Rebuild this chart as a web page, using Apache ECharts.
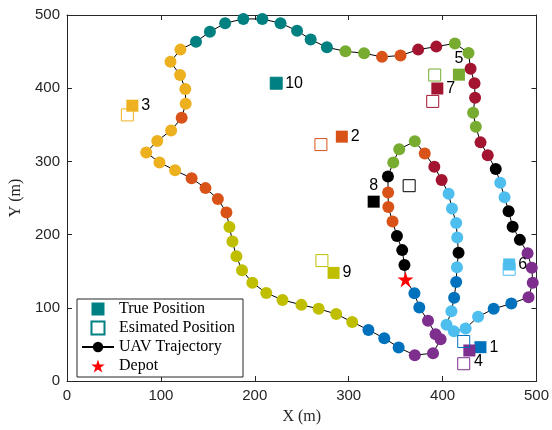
<!DOCTYPE html>
<html>
<head>
<meta charset="utf-8">
<title>UAV trajectory</title>
<script src="https://cdn.jsdelivr.net/npm/echarts@6/dist/echarts.min.js"></script>
<style>
html,body{margin:0;padding:0;background:#fff;}
#chart{width:552px;height:430px;}
</style>
</head>
<body>
<div id="chart"></div>
<script>
// target ids, true / estimated positions (m)
var targetIds = [1, 2, 3, 4, 5, 6, 7, 8, 9, 10];
var trueX = [440.3, 292.7, 69.6, 428.5, 417.4, 470.9, 394.4, 326.6, 283.9, 222.8];
var trueY = [46.2, 333.8, 376.1, 41.7, 418.5, 159.2, 399.6, 245.0, 147.7, 406.8];
var estX = [422.5, 270.4, 64.3, 422.5, 391.6, 470.9, 389.5, 364.4, 271.5, 222.8];
var estY = [54.0, 323.0, 363.5, 23.6, 418.0, 152.7, 382.0, 266.8, 164.5, 406.8];

// depot
var depot = [360.5, 138.8];

// UAV trajectory points, in flight order, and which target each point serves
var trajX = [370.0, 375.2, 384.5, 392.5, 397.9, 389.8, 370.4, 353.2, 337.9, 321.0,
  303.7, 286.7, 268.0, 249.6, 229.5, 212.2, 197.4, 186.4, 180.4, 176.2,
  173.0, 169.8, 160.7, 147.5, 132.7, 115.1, 98.5, 84.4, 96.1, 110.9,
  122.1, 126.4, 126.0, 120.4, 110.2, 120.8, 137.4, 152.2, 168.4, 187.8,
  208.0, 227.4, 245.0, 259.5, 276.8, 296.6, 316.4, 335.5, 355.2, 374.0,
  393.3, 413.1, 427.6, 429.8, 434.0, 434.6, 432.5, 435.4, 440.4, 448.1,
  456.6, 461.4, 466.0, 470.3, 474.6, 482.3, 490.5, 495.0, 496.0, 491.5,
  473.2, 454.4, 437.8, 424.5, 412.0, 404.2, 409.4, 412.3, 414.5, 415.3,
  417.0, 415.6, 414.5, 410.0, 406.4, 399.0, 391.2, 381.0, 370.4, 353.8,
  347.5, 341.8, 342.0, 342.2, 346.7, 351.4, 357.0, 359.4];
var trajY = [119.8, 100.5, 82.2, 64.0, 57.0, 38.0, 35.3, 45.7, 58.5, 69.8,
  80.7, 91.5, 98.6, 104.0, 110.8, 120.3, 134.2, 151.4, 170.3, 190.5,
  210.4, 230.1, 248.6, 263.5, 277.0, 287.8, 298.6, 312.2, 328.0, 342.3,
  359.5, 378.8, 399.0, 418.0, 436.0, 452.7, 463.5, 477.0, 488.8, 494.6,
  494.6, 488.8, 478.6, 466.5, 455.8, 450.4, 447.7, 442.8, 444.6, 452.7,
  456.8, 461.2, 448.2, 426.6, 406.8, 386.8, 366.6, 347.3, 326.0, 308.5,
  289.6, 270.8, 251.0, 232.0, 210.8, 192.8, 174.5, 154.8, 134.2, 114.4,
  105.8, 98.6, 87.8, 71.8, 67.8, 76.8, 95.3, 113.8, 135.1, 155.4,
  175.2, 196.0, 215.7, 235.5, 255.8, 274.7, 292.8, 310.8, 327.4, 316.6,
  298.6, 279.5, 257.6, 237.8, 217.8, 198.2, 178.8, 158.5];
var trajTarget = [1, 1, 4, 4, 4, 4, 4, 1, 1, 1,
  9, 9, 9, 9, 9, 9, 9, 9, 9, 9,
  9, 2, 2, 2, 2, 3, 3, 3, 3, 3,
  2, 3, 3, 3, 3, 3, 10, 10, 10, 10,
  10, 10, 10, 10, 10, 5, 5, 2, 2, 7,
  7, 5, 5, 7, 7, 7, 5, 5, 7, 7,
  8, 6, 6, 8, 8, 8, 4, 4, 4, 4,
  1, 1, 6, 6, 6, 6, 6, 1, 1, 6,
  8, 6, 6, 6, 6, 7, 7, 2, 5, 5,
  5, 8, 2, 2, 2, 8, 8, 8];

// matlab style colours per target
var palette = {
  1: '#0072BD', 2: '#D95319', 3: '#EDB120', 4: '#7E2F8E', 5: '#77AC30',
  6: '#4DBEEE', 7: '#A2142F', 8: '#000000', 9: '#BFBF00', 10: '#008080'
};

var axisColor = '#262626';
var sansFont = 'Liberation Sans, Arial, sans-serif';
var serifFont = 'Liberation Serif, Times New Roman, serif';
var starPath = 'path://M50,0L61.23,34.55L97.55,34.55L68.16,55.9L79.39,90.45L50,69.1L20.61,90.45L31.84,55.9L2.45,34.55L38.77,34.55Z';
// square as a path so the legend keeps it square
var squarePath = 'path://M0,0L10,0L10,10L0,10Z';

var chart = echarts.init(document.getElementById('chart'));

// trajectory line starts and ends at depot
var lineData = [{value: depot.slice(), symbol: 'none'}];
for (var i = 0; i < trajX.length; i++) {
  lineData.push([trajX[i], trajY[i]]);
}
lineData.push({value: depot.slice(), symbol: 'none'});

var dotData = trajX.map(function(x, i) {
  return {value: [x, trajY[i]], itemStyle: {color: palette[trajTarget[i]]}};
});

var trueData = targetIds.map(function(id, i) {
  var lab = {position: 'right', distance: 3};
  if (id === 5 || id === 8) {
    lab = {position: 'top', distance: 2};
  }
  if (id === 4) {
    lab = {position: [15, 17], align: 'center', verticalAlign: 'middle'};
  }
  return {name: String(id), value: [trueX[i], trueY[i]], itemStyle: {color: palette[id]}, label: lab};
});

var estData = targetIds.map(function(id, i) {
  return {value: [estX[i], estY[i]], itemStyle: {borderColor: palette[id]}};
});

function valueAxis(pos, withLabel) {
  return {
    type: 'value', min: 0, max: 500, interval: 100, position: pos,
    axisLine: {show: true, onZero: false, lineStyle: {color: axisColor, width: 1}},
    axisTick: {show: true, inside: true, length: 5, lineStyle: {color: axisColor}},
    axisLabel: {show: withLabel, fontFamily: sansFont, fontSize: 15, color: axisColor, margin: 7},
    splitLine: {show: false}
  };
}

var xBottom = valueAxis('bottom', true);
xBottom.name = 'X (m)';
xBottom.nameLocation = 'middle';
xBottom.nameGap = 28;
xBottom.nameTextStyle = {fontFamily: serifFont, fontSize: 16, color: axisColor};
var yLeft = valueAxis('left', true);
yLeft.name = 'Y (m)';
yLeft.nameLocation = 'middle';
yLeft.nameGap = 38;
yLeft.nameTextStyle = {fontFamily: serifFont, fontSize: 16, color: axisColor};

var option = {
  animation: false,
  backgroundColor: '#fff',
  grid: {left: 67, right: 13, top: 15, bottom: 45},
  xAxis: [xBottom, valueAxis('top', false)],
  yAxis: [yLeft, valueAxis('right', false)],
  legend: {
    orient: 'vertical', left: 77, top: 299, z: 10,
    padding: [2, 8, 3, 4], itemGap: 3, itemWidth: 32, itemHeight: 13,
    symbolKeepAspect: true,
    borderColor: axisColor, borderWidth: 1, borderRadius: 0, backgroundColor: '#fff',
    textStyle: {fontFamily: serifFont, fontSize: 16, lineHeight: 14, color: '#000'},
    data: ['True Position', 'Esimated Position', 'UAV Trajectory', 'Depot']
  },
  series: [
    {
      name: 'UAV Trajectory', type: 'line', z: 2,
      symbol: 'circle', symbolSize: 9,
      lineStyle: {color: '#000', width: 1},
      itemStyle: {color: '#000', opacity: 1},
      data: lineData
    },
    {
      name: 'points', type: 'scatter', z: 3,
      symbol: 'circle', symbolSize: 12,
      itemStyle: {opacity: 1},
      data: dotData
    },
    {
      name: 'True Position', type: 'scatter', z: 4,
      symbol: squarePath, symbolSize: 12,
      itemStyle: {color: '#008080', opacity: 1},
      label: {show: true, formatter: '{b}', fontFamily: sansFont, fontSize: 16, color: '#000'},
      data: trueData
    },
    {
      name: 'Esimated Position', type: 'scatter', z: 5,
      symbol: squarePath, symbolSize: 12,
      itemStyle: {color: 'rgba(255,255,255,0)', borderColor: '#008080', borderWidth: 1, opacity: 1},
      data: estData
    },
    {
      name: 'Depot', type: 'scatter', z: 6,
      symbol: starPath, symbolSize: 16,
      itemStyle: {color: '#ff0000', opacity: 1},
      data: [depot]
    }
  ]
};

chart.setOption(option);
</script>
</body>
</html>
